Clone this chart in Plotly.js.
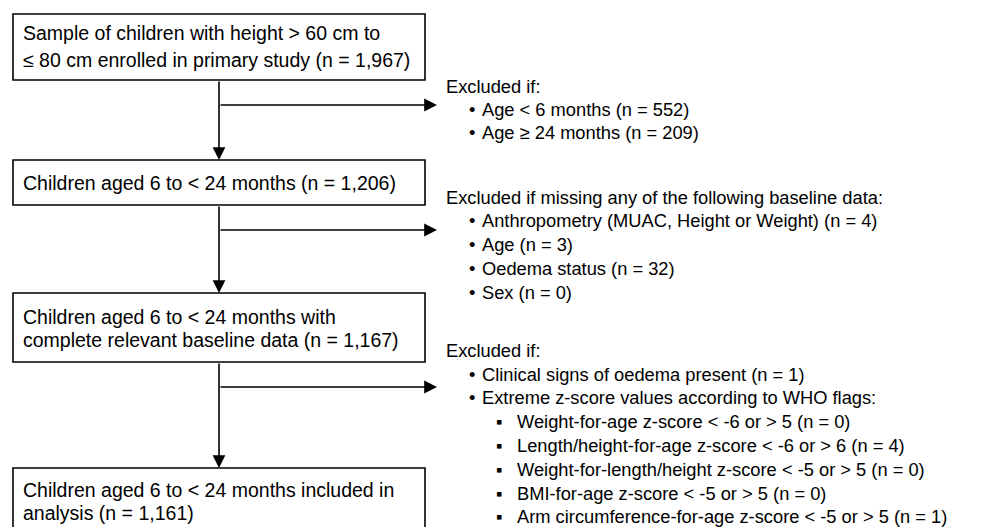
<!DOCTYPE html>
<html>
<head>
<meta charset="utf-8">
<script src="https://cdn.plot.ly/plotly-3.0.1.min.js"></script>
<style>html,body{margin:0;padding:0;background:#fff;}#chart{width:984px;height:527px;}</style>
</head>
<body>
<div id="chart"></div>
<script>
// ---- Data ----
const stepLines = [
  ["Sample of children with height > 60 cm to", "≤ 80 cm enrolled in primary study"],
  ["Children aged 6 to < 24 months"],
  ["Children aged 6 to < 24 months with", "complete relevant baseline data"],
  ["Children aged 6 to < 24 months included in", "analysis"]
];
const stepCounts = [1967, 1206, 1167, 1161];

const exclHeadings = [
  "Excluded if:",
  "Excluded if missing any of the following baseline data:",
  "Excluded if:"
];
const exclItems = [
  ["Age < 6 months", "Age ≥ 24 months"],
  ["Anthropometry (MUAC, Height or Weight)", "Age", "Oedema status", "Sex"],
  ["Clinical signs of oedema present", "Extreme z-score values according to WHO flags:"]
];
const exclCounts = [
  [552, 209],
  [4, 3, 32, 0],
  [1, null]
];
const flagItems = [
  "Weight-for-age z-score < -6 or > 5",
  "Length/height-for-age z-score < -6 or > 6",
  "Weight-for-length/height z-score < -5 or > 5",
  "BMI-for-age z-score < -5 or > 5",
  "Arm circumference-for-age z-score < -5 or > 5"
];
const flagCounts = [0, 4, 0, 0, 1];

// ---- Layout geometry ----
const BOXFONT = {family: "Liberation Sans, Arial, sans-serif", size: 19.5, color: "#000"};
const SIDEFONT = {family: "Liberation Sans, Arial, sans-serif", size: 18.3, color: "#000"};
const boxX0 = 13, boxX1 = 425, stemX = 219, arrowTipX = 437;
const boxY = [[14, 80], [160, 205], [293, 362], [468, 560]];
const boxLineY = [[33, 60], [183], [317, 340], [490, 513]];
const branchY = [105, 230, 387];
const headY = [86, 197, 350];
const itemY = [[109, 132], [220, 244, 268, 292], [374, 397]];
const flagY = [421, 445, 469, 493, 516];

const fmt = n => n.toLocaleString("en-US");

const shapes = [];
const annotations = [];

function txt(x, y, text, font) {
  annotations.push({x: x, y: y, xref: "x", yref: "y", text: text, showarrow: false,
    xanchor: "left", yanchor: "middle", font: font, align: "left"});
}
function arrow(x0, y0, x1, y1) {
  annotations.push({x: x1, y: y1, ax: x0, ay: y0, xref: "x", yref: "y", axref: "x", ayref: "y",
    text: "", showarrow: true, arrowhead: 2, arrowsize: 1.6, arrowwidth: 1.6, arrowcolor: "#000", standoff: 0});
}

// boxes
boxY.forEach((b, i) => {
  shapes.push({type: "rect", xref: "x", yref: "y", x0: boxX0, x1: boxX1, y0: b[0], y1: b[1],
    line: {color: "#000", width: 1.6}, fillcolor: "rgba(0,0,0,0)"});
  const lines = stepLines[i].slice();
  lines[lines.length - 1] += " (n = " + fmt(stepCounts[i]) + ")";
  lines.forEach((l, j) => txt(21, boxLineY[i][j], l, BOXFONT));
});

// vertical arrows between boxes and branches
for (let i = 0; i < 3; i++) {
  arrow(stemX, boxY[i][1], stemX, boxY[i + 1][0]);
  arrow(stemX, branchY[i], arrowTipX, branchY[i]);
}

// exclusion text
exclHeadings.forEach((h, i) => {
  txt(444, headY[i], h, SIDEFONT);
  exclItems[i].forEach((it, j) => {
    const c = exclCounts[i][j];
    txt(467, itemY[i][j], "•", SIDEFONT);
    txt(480, itemY[i][j], it + (c === null ? "" : " (n = " + c + ")"), SIDEFONT);
  });
});
flagItems.forEach((f, k) => {
  txt(494, flagY[k], "▪", SIDEFONT);
  txt(515, flagY[k], f + " (n = " + flagCounts[k] + ")", SIDEFONT);
});

const layout = {
  width: 984, height: 527,
  margin: {l: 0, r: 0, t: 0, b: 0},
  paper_bgcolor: "#fff", plot_bgcolor: "#fff",
  xaxis: {range: [0, 984], visible: false, fixedrange: true},
  yaxis: {range: [527, 0], visible: false, fixedrange: true},
  shapes: shapes,
  annotations: annotations,
  showlegend: false
};
Plotly.newPlot("chart", [], layout, {staticPlot: true});
</script>
</body>
</html>
